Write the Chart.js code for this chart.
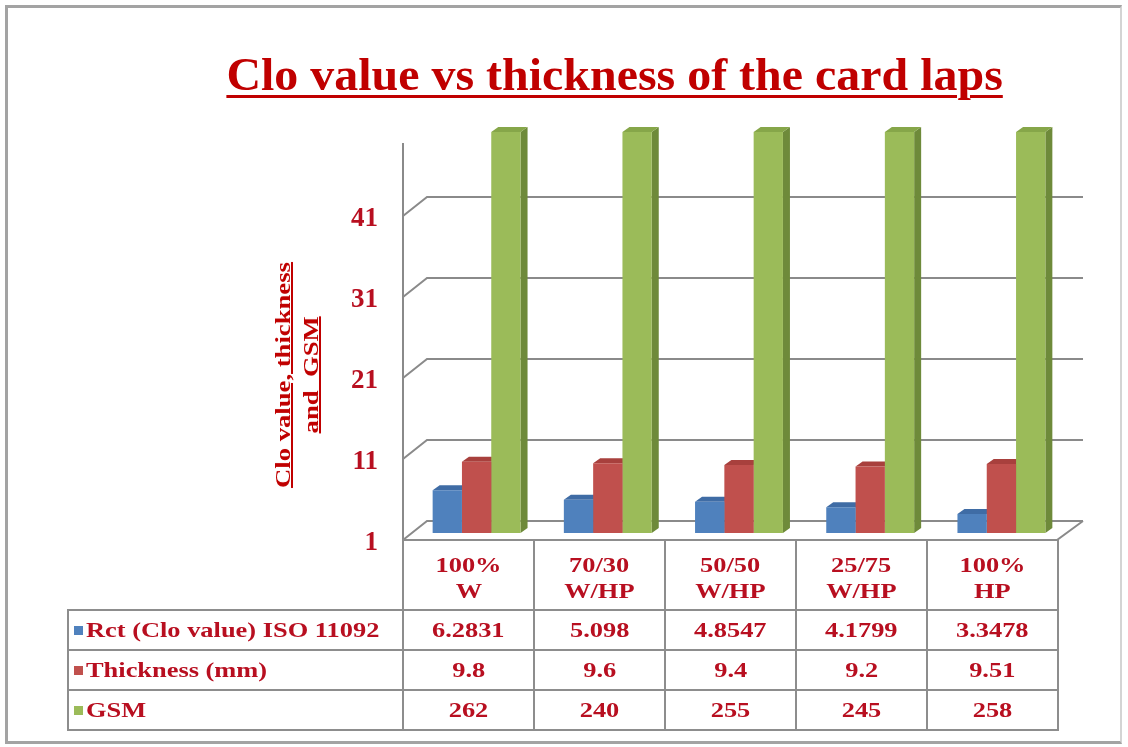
<!DOCTYPE html>
<html>
<head>
<meta charset="utf-8">
<script src="https://cdn.jsdelivr.net/npm/chart.js@4.4.1/dist/chart.umd.min.js"></script>
<style>
  html, body { margin: 0; padding: 0; background: #fff; }
  #wrap {
    position: relative; width: 1128px; height: 747px; overflow: hidden;
    font-family: "Liberation Serif", "Times New Roman", serif; font-weight: bold; color: #b80f20;
  }
  #frame {
    position: absolute; left: 5px; top: 5px; width: 1112px; height: 733px;
    border: 3px solid #a3a3a3; border-right: 2px solid #d4d4d4;
  }
  #chart { position: absolute; left: 0; top: 0; }
  .sx { display: inline-block; transform: scaleX(1.2); white-space: nowrap; }
  #title {
    position: absolute; left: 0; width: 1230px; top: 48px; text-align: center;
    font-size: 47px; line-height: 52px; color: #c00000;
  }
  #title .sx { transform: scaleX(1.02); text-decoration: underline; text-decoration-thickness: 3px; text-underline-offset: 5px; }
  #ylabel {
    position: absolute; left: 297px; top: 375px; transform: translate(-50%, -50%) rotate(-90deg);
    font-size: 21px; line-height: 28px; text-align: center; white-space: nowrap; color: #c00000;
  }
  #ylabel .sx { transform: scaleX(1.27); text-decoration: underline; text-decoration-thickness: 2px; }
  #tbl {
    position: absolute; left: 67px; top: 539px; border-collapse: collapse; table-layout: fixed;
    font-size: 22px;
  }
  #tbl td { border: 2px solid #8d8d8d; text-align: center; padding: 0; height: 38px; }
  #tbl tr.head td { height: 62px; line-height: 26px; vertical-align: middle; padding-top: 6px; }
  #tbl tr.head td.empty { border: none; }
  #tbl td.name { text-align: left; padding-left: 5px; }
  #tbl td.name .sx { transform-origin: left center; }
  .key { display: inline-block; width: 9px; height: 9px; margin-right: 3px; vertical-align: 2px; }
</style>
</head>
<body>
<div id="wrap">
  <div id="frame"></div>
  <canvas id="chart" width="1128" height="747"></canvas>
  <div id="title"><span class="sx">Clo value vs thickness of the card laps</span></div>
  <div id="ylabel"><span class="sx">Clo value, thickness</span><br><span class="sx">and&nbsp; GSM</span></div>
  <table id="tbl"></table>
</div>
<script>
// data
const categories = [["100%", "W"], ["70/30", "W/HP"], ["50/50", "W/HP"], ["25/75", "W/HP"], ["100%", "HP"]];
const seriesNames = ["Rct (Clo value) ISO 11092", "Thickness (mm)", "GSM"];
const rctValues = [6.2831, 5.098, 4.8547, 4.1799, 3.3478];
const thicknessValues = [9.8, 9.6, 9.4, 9.2, 9.51];
const gsmValues = [262, 240, 255, 245, 258];
const yTicks = [1, 11, 21, 31, 41];
const yMin = 1;
const yMax = 50;

const frontColors = ["#4f81bd", "#c0504d", "#9bbb59"];
const sideColors = ["#34598a", "#8c3533", "#6e8a3a"];
const topColors = ["#3f6ca5", "#a8403d", "#86a649"];
const textColor = "#b80f20";
const gridColor = "#8a8a8a";

// 3d look: depth of the floor, offset of the bar row, depth of a bar
const depthX = 24, depthY = 19;
const barShiftX = -16, barShiftY = 12;
const faceX = 7, faceY = 5;

const box3d = {
    id: "box3d",
    beforeDatasetsDraw(chart) {
        const { ctx, chartArea: a, scales: { y } } = chart;
        const floor = y.getPixelForValue(yMin);
        ctx.save();
        ctx.strokeStyle = gridColor;
        ctx.lineWidth = 2;
        yTicks.forEach((v) => {
            const py = Math.round(y.getPixelForValue(v));
            ctx.beginPath();
            ctx.moveTo(a.left - depthX, py + depthY);
            ctx.lineTo(a.left, py);
            ctx.lineTo(a.right, py);
            ctx.stroke();
        });
        ctx.beginPath();
        ctx.moveTo(a.left - depthX, floor + depthY);
        ctx.lineTo(a.right - depthX - 2, floor + depthY);
        ctx.lineTo(a.right, floor);
        ctx.stroke();
        ctx.beginPath();
        ctx.moveTo(a.left - depthX, a.top + depthY);
        ctx.lineTo(a.left - depthX, floor + depthY);
        ctx.stroke();
        ctx.restore();

        // bar row sits half way into the floor; side and top faces go
        // underneath, the library then paints the front faces over them
        ctx.save();
        ctx.translate(barShiftX, barShiftY);
        chart.getSortedVisibleDatasetMetas().forEach((meta) => {
            const i = meta.index;
            meta.data.forEach((bar) => {
                const { x, y: top, base, width } = bar.getProps(["x", "y", "base", "width"]);
                const l = x - width / 2;
                const r = x + width / 2;
                const t = Math.max(top, a.top - 4);
                ctx.fillStyle = sideColors[i];
                ctx.beginPath();
                ctx.moveTo(r, t);
                ctx.lineTo(r + faceX, t - faceY);
                ctx.lineTo(r + faceX, base - faceY);
                ctx.lineTo(r, base);
                ctx.closePath();
                ctx.fill();
                ctx.fillStyle = topColors[i];
                ctx.beginPath();
                ctx.moveTo(l, t);
                ctx.lineTo(l + faceX, t - faceY);
                ctx.lineTo(r + faceX, t - faceY);
                ctx.lineTo(r, t);
                ctx.closePath();
                ctx.fill();
            });
        });
    },
    afterDatasetsDraw(chart) {
        chart.ctx.restore();
    },
};

const seriesValues = [rctValues, thicknessValues, gsmValues];

new Chart(document.getElementById("chart"), {
    type: "bar",
    data: {
        labels: categories,
        datasets: seriesValues.map((values, i) => ({
            label: seriesNames[i],
            data: values,
            backgroundColor: frontColors[i],
        })),
    },
    options: {
        responsive: false,
        animation: false,
        layout: { padding: { left: 327, right: 45, top: 124, bottom: 226 } },
        plugins: { legend: { display: false }, tooltip: { enabled: false } },
        datasets: {
            bar: {
                base: yMin,
                categoryPercentage: 0.67,
                barPercentage: 1.0,
                borderWidth: 0,
                clip: { left: 0, top: 4, right: 0, bottom: 0 },
            },
        },
        scales: {
            x: { display: false },
            y: {
                min: yMin,
                max: yMax,
                afterFit: (scale) => { scale.width = 100; },
                afterBuildTicks: (scale) => { scale.ticks = yTicks.map((v) => ({ value: v })); },
                grid: { display: false, drawTicks: false },
                border: { display: false },
                ticks: {
                    padding: 49,
                    labelOffset: 22,
                    color: textColor,
                    font: { family: "'Liberation Serif', serif", size: 27, weight: "bold" },
                },
            },
        },
    },
    plugins: [box3d],
});

// data table under the plot
const tbl = document.getElementById("tbl");
let html = '<colgroup><col style="width:335px">' + categories.map(() => '<col style="width:131px">').join("") + "</colgroup>";
html += '<tr class="head"><td class="empty"></td>' +
    categories.map((c) => `<td><span class="sx">${c[0]}</span><br><span class="sx">${c[1]}</span></td>`).join("") + "</tr>";
seriesValues.forEach((values, i) => {
    html += `<tr><td class="name"><span class="key" style="background:${frontColors[i]}"></span><span class="sx">${seriesNames[i]}</span></td>` +
        values.map((v) => `<td><span class="sx">${v}</span></td>`).join("") + "</tr>";
});
tbl.innerHTML = html;
</script>
</body>
</html>
